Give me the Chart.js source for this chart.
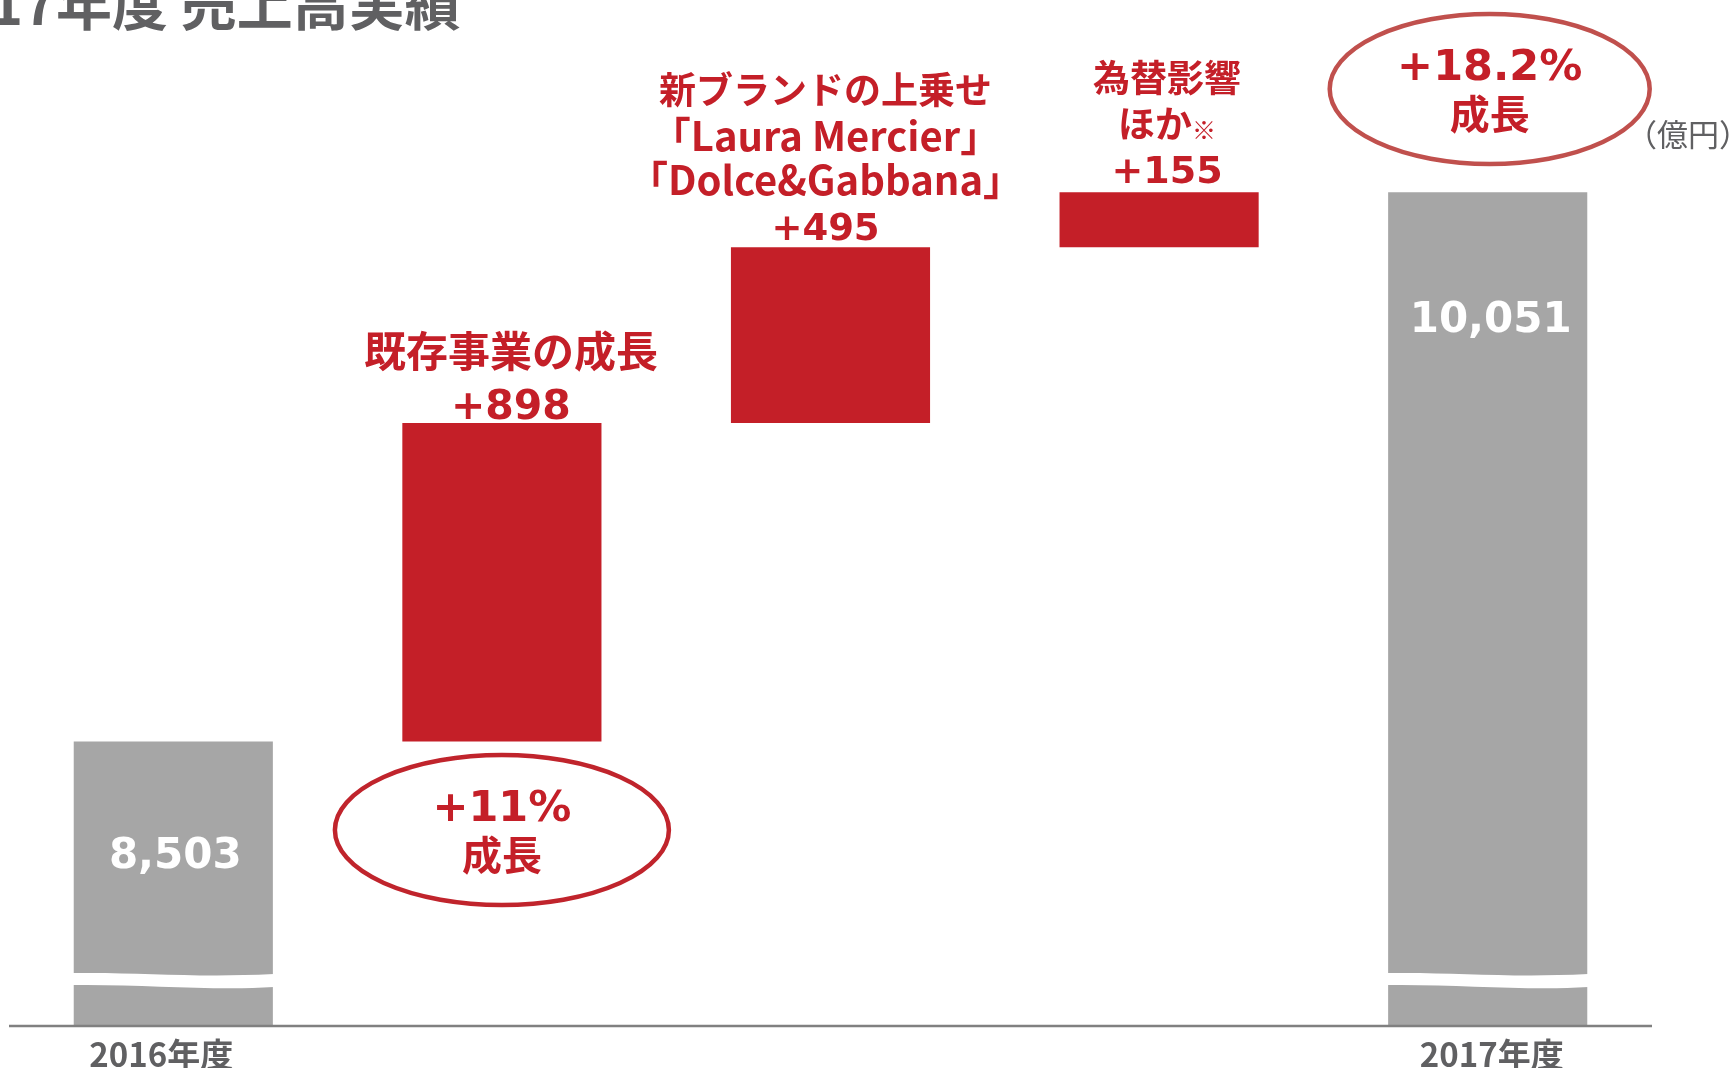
<!DOCTYPE html>
<html>
<head>
<meta charset="utf-8">
<script src="https://cdn.jsdelivr.net/npm/chart.js@4"></script>
<style>
  html, body { margin: 0; padding: 0; background: #fff; }
  canvas { display: block; }
</style>
</head>
<body>
<canvas id="chart" width="1735" height="1068"></canvas>
<script>
'use strict';

//****************************************
//          DATA
//****************************************

const categories = ['2016年度', '既存事業の成長', '新ブランドの上乗せ', '為替影響ほか', '2017年度'];
const startTotal = 8503;
const increments = [898, 495, 155];
const endTotal = 10051;
const totalLabels = ['8,503', '10,051'];
const stepLabels = [
  ['既存事業の成長', '+898'],
  ['新ブランドの上乗せ', '「Laura Mercier」', '「Dolce&Gabbana」', '+495'],
  ['為替影響', 'ほか', '+155']
];
const growthLabels = [['+11%', '成長'], ['+18.2%', '成長']];
const axisMin = 7704;
const axisMax = 10593;

//****************************************
//          HELPERS
//****************************************

const RED = '#C41F28';
const GRAY_BAR = '#A6A6A6';
const GRAY_TEXT = '#606062';
const LATIN = '"DejaVu Sans", "Noto Sans CJK JP", sans-serif';
const CJK = '"Noto Sans CJK JP", sans-serif';

// floating bars built from the running total
function buildFloating() {
  let out = [[axisMin, startTotal]];
  let run = startTotal;
  for (let i = 0; i < increments.length; i++) {
    out.push([run, run + increments[i]]);
    run += increments[i];
  }
  out.push([axisMin, endTotal]);
  return out;
}

const floating = buildFloating();
const barColors = floating.map(function (d, i) {
  return (i === 0 || i === floating.length - 1) ? GRAY_BAR : RED;
});

// *********************************************
//              OVERLAY PLUGIN
// *********************************************

const overlay = {
  id: 'overlay',
  afterDatasetsDraw(chart) {
    const ctx = chart.ctx;
    const x = chart.scales.x;
    const y = chart.scales.y;
    const meta = chart.getDatasetMeta(0);
    const area = chart.chartArea;

    ctx.save();

    // break marks on the grey bars
    [0, floating.length - 1].forEach(function (i) {
      const bar = meta.data[i];
      const w = bar.width;
      const l = bar.x - w / 2 - 1;
      const r = bar.x + w / 2 + 1;
      const yb = area.bottom;
      ctx.beginPath();
      ctx.moveTo(l, yb - 52);
      ctx.bezierCurveTo(l + w * 0.35, yb - 53, l + w * 0.6, yb - 47, r, yb - 51);
      ctx.lineTo(r, yb - 38);
      ctx.bezierCurveTo(l + w * 0.7, yb - 34, l + w * 0.35, yb - 41, l, yb - 40);
      ctx.closePath();
      ctx.fillStyle = '#fff';
      ctx.fill();
    });

    // baseline
    ctx.strokeStyle = '#808080';
    ctx.lineWidth = 2.5;
    ctx.beginPath();
    ctx.moveTo(area.left, area.bottom + 1);
    ctx.lineTo(area.right, area.bottom + 1);
    ctx.stroke();

    ctx.textAlign = 'center';
    ctx.textBaseline = 'middle';

    // category labels under the grey bars
    ctx.fillStyle = GRAY_TEXT;
    ctx.font = 'bold 33px ' + CJK;
    ctx.fillText(categories[0], x.getPixelForValue(0) - 12, 1054);
    ctx.fillText(categories[4], x.getPixelForValue(4) + 4, 1054);

    // totals inside grey bars
    ctx.fillStyle = '#fff';
    ctx.font = 'bold 42px ' + LATIN;
    ctx.fillText(totalLabels[0], x.getPixelForValue(0) + 2, y.getPixelForValue(startTotal) + 116);
    ctx.fillText(totalLabels[1], x.getPixelForValue(4) + 3, y.getPixelForValue(endTotal) + 129);

    // step labels above the red bars
    ctx.fillStyle = RED;
    let top1 = y.getPixelForValue(floating[1][1]);
    let cx1 = x.getPixelForValue(1) + 9;
    ctx.font = 'bold 42px ' + CJK;
    ctx.fillText(stepLabels[0][0], cx1, top1 - 72);
    ctx.font = 'bold 41px ' + LATIN;
    ctx.fillText(stepLabels[0][1], cx1, top1 - 15);

    let top2 = y.getPixelForValue(floating[2][1]);
    let cx2 = x.getPixelForValue(2) - 5;
    ctx.font = 'bold 37px ' + CJK;
    ctx.fillText(stepLabels[1][0], cx2, top2 - 157);
    ctx.font = 'bold 40px ' + CJK;
    ctx.fillText(stepLabels[1][1], cx2, top2 - 111);
    ctx.fillText(stepLabels[1][2], cx2, top2 - 67);
    ctx.font = 'bold 37px ' + LATIN;
    ctx.fillText(stepLabels[1][3], cx2, top2 - 17);

    let top3 = y.getPixelForValue(floating[3][1]);
    let cx3 = x.getPixelForValue(3) + 8;
    ctx.font = 'bold 37px ' + CJK;
    ctx.fillText(stepLabels[2][0], cx3, top3 - 114);
    // "ほか" followed by a smaller note mark
    let wMain = ctx.measureText(stepLabels[2][1]).width;
    ctx.font = 'bold 24px ' + CJK;
    let wNote = ctx.measureText('※').width;
    let startX = cx3 - (wMain + wNote) / 2;
    ctx.textAlign = 'left';
    ctx.fillText('※', startX + wMain, top3 - 62);
    ctx.font = 'bold 37px ' + CJK;
    ctx.fillText(stepLabels[2][1], startX, top3 - 68);
    ctx.textAlign = 'center';
    ctx.font = 'bold 38px ' + LATIN;
    ctx.fillText(stepLabels[2][2], cx3, top3 - 19);

    // growth ellipses
    function ring(cx, cy, rx, ry, color, lines) {
      ctx.beginPath();
      ctx.ellipse(cx, cy, rx, ry, 0, 0, Math.PI * 2);
      ctx.strokeStyle = color;
      ctx.lineWidth = 4.5;
      ctx.stroke();
      ctx.fillStyle = RED;
      ctx.font = 'bold 43px ' + LATIN;
      ctx.fillText(lines[0], cx, cy - 20);
      ctx.font = 'bold 40px ' + CJK;
      ctx.fillText(lines[1], cx, cy + 25);
    }
    ring(x.getPixelForValue(1), 830, 167, 75, '#C0242C', growthLabels[0]);
    ring(x.getPixelForValue(4) + 2, 89, 160, 75, '#C0504D', growthLabels[1]);

    // unit
    ctx.fillStyle = GRAY_TEXT;
    ctx.font = '31px ' + CJK;
    ctx.textAlign = 'right';
    ctx.fillText('（億円）', 1750, 134);

    // title, cut off at top-left like the source slide
    ctx.textAlign = 'left';
    ctx.fillStyle = GRAY_TEXT;
    ctx.font = 'bold 56px ' + CJK;
    ctx.fillText('17年度 売上高実績', -10, 4);

    ctx.restore();
  }
};

//****************************************
//            CHART
//****************************************

new Chart(document.getElementById('chart'), {
  type: 'bar',
  data: {
    labels: categories,
    datasets: [{
      data: floating,
      backgroundColor: barColors,
      borderWidth: 0,
      categoryPercentage: 1,
      barPercentage: 0.606
    }]
  },
  options: {
    responsive: false,
    animation: false,
    devicePixelRatio: 1,
    layout: { padding: { left: 9, right: 83, top: 0, bottom: 43 } },
    plugins: { legend: { display: false }, tooltip: { enabled: false } },
    scales: {
      x: { display: false },
      y: { display: false, min: axisMin, max: axisMax }
    }
  },
  plugins: [overlay]
});
</script>
</body>
</html>
